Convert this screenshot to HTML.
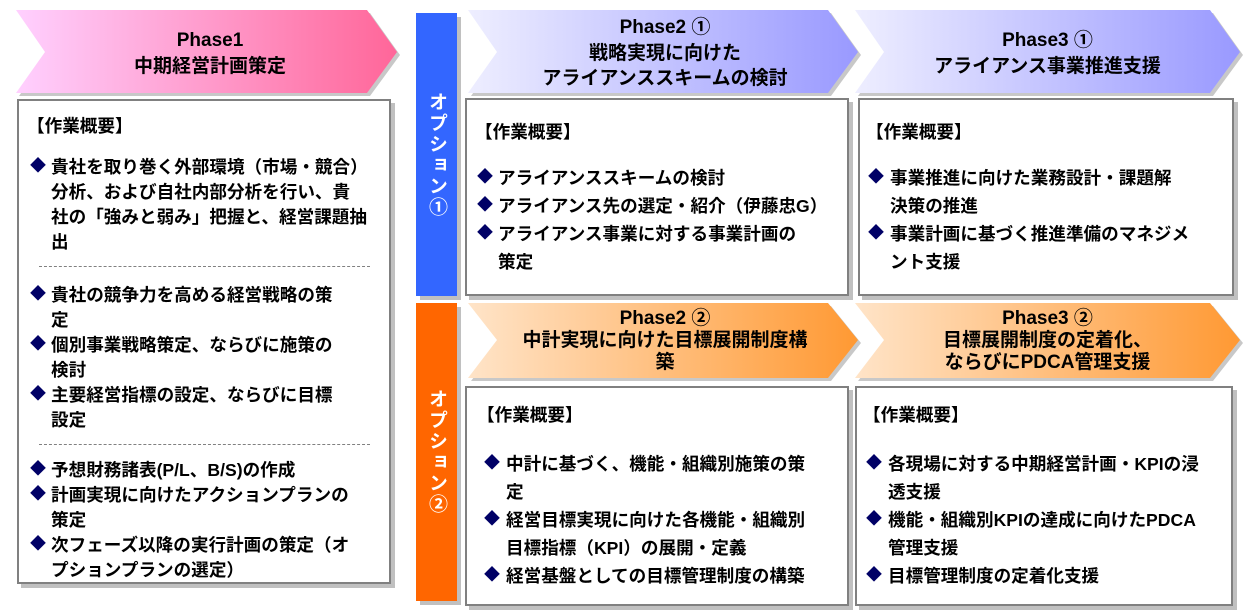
<!DOCTYPE html>
<html><head><meta charset="utf-8"><style>
body{margin:0;width:1243px;height:613px;background:#fff;position:relative;overflow:hidden;font-family:"Liberation Sans","Noto Sans CJK JP",sans-serif;font-weight:bold;color:#000}
.t{position:absolute;font-size:17.6px;line-height:20px;white-space:nowrap}
.h{font-size:19px}
.c{text-align:center}
.box{position:absolute;border:2px solid #808080;background:#fff;box-shadow:4px 4px 0 #c0c0c0;box-sizing:border-box}
.b{position:absolute;color:#000066;font-size:16px;line-height:20px}
.dash{position:absolute;border-top:1px dashed #808080;height:0}
.opt{position:absolute;color:#fff;font-size:19px;writing-mode:vertical-rl;box-shadow:4px 4px 0 #c0c0c0;display:flex;align-items:center;justify-content:center;letter-spacing:2px}
</style></head><body>
<svg width="1243" height="613" style="position:absolute;left:0;top:0">
<defs>
<linearGradient id="g1" x1="0" x2="1"><stop offset="0" stop-color="#ffd0ff"/><stop offset="1" stop-color="#ff6699"/></linearGradient>
<linearGradient id="g2" x1="0" x2="1"><stop offset="0" stop-color="#eeeeff"/><stop offset="1" stop-color="#9999ff"/></linearGradient>
<linearGradient id="g3" x1="0" x2="1"><stop offset="0" stop-color="#ffe4c8"/><stop offset="1" stop-color="#ff9933"/></linearGradient>
</defs>
<g fill="#c8c8c8">
<polygon points="19,13 370,13 400,55 370,96 19,96 48,55"/>
<polygon points="471,13 831,13 861,55 831,96 471,96 500,55"/>
<polygon points="858,13 1213,13 1243,55 1213,96 858,96 887,55"/>
<polygon points="471,306 831,306 861,343 831,381 471,381 500,343"/>
<polygon points="858,306 1213,306 1243,343 1213,381 858,381 887,343"/>
</g>
<polygon fill="url(#g1)" points="16,10 367,10 397,52 367,93 16,93 45,52"/>
<polygon fill="url(#g2)" points="468,10 828,10 858,52 828,93 468,93 497,52"/>
<polygon fill="url(#g2)" points="855,10 1210,10 1240,52 1210,93 855,93 884,52"/>
<polygon fill="url(#g3)" points="468,303 828,303 858,340 828,378 468,378 497,340"/>
<polygon fill="url(#g3)" points="855,303 1210,303 1240,340 1210,378 855,378 884,340"/>
</svg>

<div class="t h c" style="left:40px;width:340px;top:31px">Phase1</div>
<div class="t h c" style="left:40px;width:340px;top:57px">中期経営計画策定</div>
<div class="t h c" style="left:490px;width:350px;top:18px">Phase2 ①</div>
<div class="t h c" style="left:490px;width:350px;top:44px">戦略実現に向けた</div>
<div class="t h c" style="left:490px;width:350px;top:69px">アライアンススキームの検討</div>
<div class="t h c" style="left:880px;width:335px;top:31px">Phase3 ①</div>
<div class="t h c" style="left:880px;width:335px;top:57px">アライアンス事業推進支援</div>
<div class="t h c" style="left:490px;width:350px;top:309px">Phase2 ②</div>
<div class="t h c" style="left:490px;width:350px;top:331px">中計実現に向けた目標展開制度構</div>
<div class="t h c" style="left:490px;width:350px;top:353px">築</div>
<div class="t h c" style="left:880px;width:335px;top:309px">Phase3 ②</div>
<div class="t h c" style="left:880px;width:335px;top:331px">目標展開制度の定着化、</div>
<div class="t h c" style="left:880px;width:335px;top:353px">ならびにPDCA管理支援</div>

<div class="opt" style="left:416px;top:13px;width:41px;height:283px;background:#3366ff">オプション①</div>
<div class="opt" style="left:416px;top:303px;width:41px;height:298px;background:#ff6600">オプション②</div>

<div class="box" style="left:17px;top:99px;width:374px;height:485px"></div>
<div class="box" style="left:465px;top:98px;width:384px;height:198px"></div>
<div class="box" style="left:858px;top:98px;width:376px;height:198px"></div>
<div class="box" style="left:465px;top:386px;width:384px;height:220px"></div>
<div class="box" style="left:855px;top:386px;width:378px;height:220px"></div>

<div class="t" style="left:27px;top:116px">【作業概要】</div>
<div class="b" style="left:30px;top:157px">◆</div><div class="t" style="left:51px;top:157px">貴社を取り巻く外部環境（市場・競合）</div>
<div class="t" style="left:51px;top:182px">分析、および自社内部分析を行い、貴</div>
<div class="t" style="left:51px;top:207px">社の「強みと弱み」把握と、経営課題抽</div>
<div class="t" style="left:51px;top:232px">出</div>
<div class="dash" style="left:39px;top:266px;width:331px"></div>
<div class="b" style="left:30px;top:285px">◆</div><div class="t" style="left:51px;top:285px">貴社の競争力を高める経営戦略の策</div>
<div class="t" style="left:51px;top:310px">定</div>
<div class="b" style="left:30px;top:335px">◆</div><div class="t" style="left:51px;top:335px">個別事業戦略策定、ならびに施策の</div>
<div class="t" style="left:51px;top:360px">検討</div>
<div class="b" style="left:30px;top:385px">◆</div><div class="t" style="left:51px;top:385px">主要経営指標の設定、ならびに目標</div>
<div class="t" style="left:51px;top:410px">設定</div>
<div class="dash" style="left:39px;top:444px;width:331px"></div>
<div class="b" style="left:30px;top:460px">◆</div><div class="t" style="left:51px;top:460px">予想財務諸表(P/L、B/S)の作成</div>
<div class="b" style="left:30px;top:485px">◆</div><div class="t" style="left:51px;top:485px">計画実現に向けたアクションプランの</div>
<div class="t" style="left:51px;top:510px">策定</div>
<div class="b" style="left:30px;top:535px">◆</div><div class="t" style="left:51px;top:535px">次フェーズ以降の実行計画の策定（オ</div>
<div class="t" style="left:51px;top:560px">プションプランの選定）</div>

<div class="t" style="left:475px;top:122px">【作業概要】</div>
<div class="b" style="left:477px;top:168px">◆</div><div class="t" style="left:498px;top:168px">アライアンススキームの検討</div>
<div class="b" style="left:477px;top:196px">◆</div><div class="t" style="left:498px;top:196px">アライアンス先の選定・紹介（伊藤忠G）</div>
<div class="b" style="left:477px;top:224px">◆</div><div class="t" style="left:498px;top:224px">アライアンス事業に対する事業計画の</div>
<div class="t" style="left:498px;top:252px">策定</div>

<div class="t" style="left:866px;top:122px">【作業概要】</div>
<div class="b" style="left:868px;top:168px">◆</div><div class="t" style="left:890px;top:168px">事業推進に向けた業務設計・課題解</div>
<div class="t" style="left:890px;top:196px">決策の推進</div>
<div class="b" style="left:868px;top:224px">◆</div><div class="t" style="left:890px;top:224px">事業計画に基づく推進準備のマネジメ</div>
<div class="t" style="left:890px;top:252px">ント支援</div>

<div class="t" style="left:477px;top:405px">【作業概要】</div>
<div class="b" style="left:484px;top:454px">◆</div><div class="t" style="left:506px;top:454px">中計に基づく、機能・組織別施策の策</div>
<div class="t" style="left:506px;top:482px">定</div>
<div class="b" style="left:484px;top:510px">◆</div><div class="t" style="left:506px;top:510px">経営目標実現に向けた各機能・組織別</div>
<div class="t" style="left:506px;top:538px">目標指標（KPI）の展開・定義</div>
<div class="b" style="left:484px;top:566px">◆</div><div class="t" style="left:506px;top:566px">経営基盤としての目標管理制度の構築</div>

<div class="t" style="left:863px;top:405px">【作業概要】</div>
<div class="b" style="left:866px;top:454px">◆</div><div class="t" style="left:888px;top:454px">各現場に対する中期経営計画・KPIの浸</div>
<div class="t" style="left:888px;top:482px">透支援</div>
<div class="b" style="left:866px;top:510px">◆</div><div class="t" style="left:888px;top:510px">機能・組織別KPIの達成に向けたPDCA</div>
<div class="t" style="left:888px;top:538px">管理支援</div>
<div class="b" style="left:866px;top:566px">◆</div><div class="t" style="left:888px;top:566px">目標管理制度の定着化支援</div>
</body></html>
